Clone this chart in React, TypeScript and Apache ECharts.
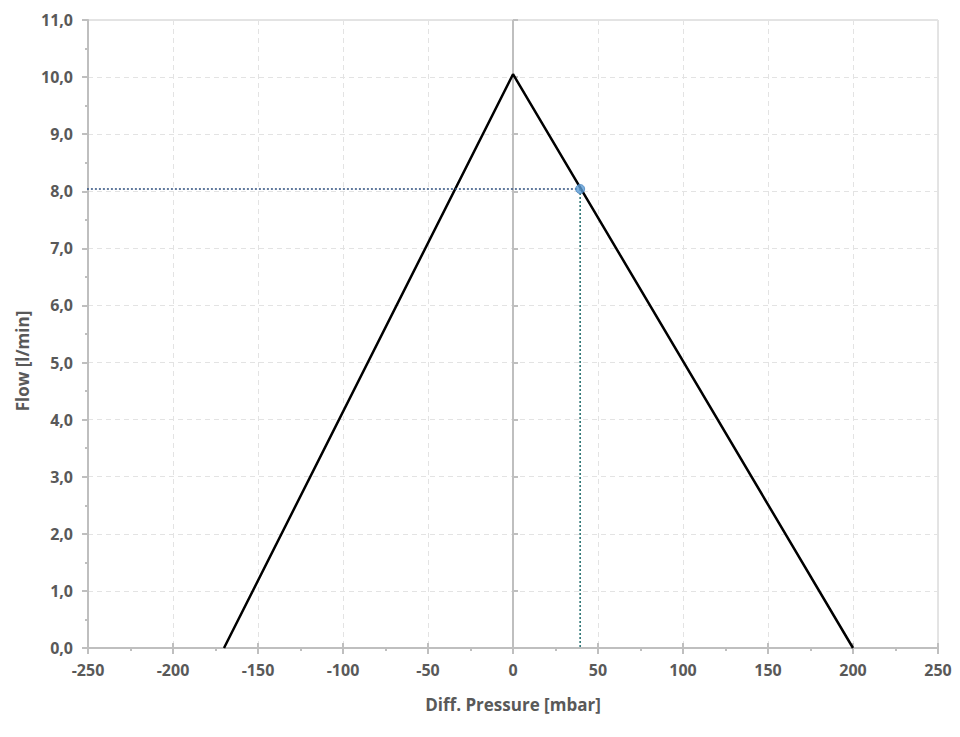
import React, { useEffect, useRef } from "react";
import * as echarts from "echarts";

const curveX = [-170, 0, 200];
const curveY = [0, 10.05, 0];
const pointX = 39.5;
const pointY = 8.04;
const xTitle = "Diff. Pressure [mbar]";
const yTitle = "Flow [l/min]";

export default function App() {
  const ref = useRef<HTMLDivElement>(null);
  useEffect(() => {
    if (!ref.current) return;
    const chart = echarts.init(ref.current, null, { renderer: "svg" });
    const font = "'Open Sans', 'Liberation Sans', sans-serif";
    const labelStyle = { color: "#595959", fontWeight: "bold" as const, fontSize: 16, fontFamily: font };
    const gray = "#bfbfbf";
    const innerX = {
      type: "value",
      min: -250,
      max: 250,
      interval: 50,
      position: "bottom",
      axisLine: { show: false },
      axisTick: { show: true, inside: true, length: 5, lineStyle: { color: gray, width: 2 } },
      axisLabel: { show: false },
      splitLine: { show: false },
    };
    const innerY = {
      type: "value",
      min: 0,
      max: 11,
      interval: 1,
      position: "left",
      axisLine: { show: false },
      axisTick: { show: true, inside: true, length: 5, lineStyle: { color: gray, width: 2 } },
      axisLabel: { show: false },
      splitLine: { show: false },
    };
    chart.setOption({
      animation: false,
      backgroundColor: "#ffffff",
      grid: { left: 88, right: 22, top: 20, bottom: 89, show: true, borderColor: "#c8c8c8", borderWidth: 1 },
      xAxis: [
        {
          type: "value",
          min: -250,
          max: 250,
          interval: 50,
          name: xTitle,
          nameLocation: "middle",
          nameGap: 48,
          nameTextStyle: { ...labelStyle, fontSize: 17 },
          axisLine: { show: true, onZero: false, lineStyle: { color: gray, width: 2 } },
          axisTick: { show: true, length: 6, lineStyle: { color: gray, width: 2 } },
          minorTick: { show: true, splitNumber: 2, length: 3, lineStyle: { color: gray, width: 2 } },
          axisLabel: { ...labelStyle, margin: 14 },
          splitLine: { show: true, lineStyle: { color: "#e3e3e3", type: [5, 4], width: 1 } },
        },
        innerX,
      ],
      yAxis: [
        {
          type: "value",
          min: 0,
          max: 11,
          interval: 1,
          axisLine: { show: true, onZero: false, lineStyle: { color: gray, width: 2 } },
          axisTick: { show: true, length: 6, lineStyle: { color: gray, width: 2 } },
          minorTick: { show: true, splitNumber: 2, length: 3, lineStyle: { color: gray, width: 2 } },
          axisLabel: { ...labelStyle, margin: 15, formatter: (v: number) => v.toFixed(1).replace(".", ",") },
          splitLine: { show: true, lineStyle: { color: "#e3e3e3", type: [5, 4], width: 1 } },
        },
        innerY,
      ],
      graphic: [
        {
          type: "text",
          x: 22,
          y: 361,
          rotation: Math.PI / 2,
          style: {
            text: yTitle,
            fill: "#595959",
            font: `bold 17px ${font}`,
            align: "center",
            verticalAlign: "middle",
          },
        },
      ],
      series: [
        {
          type: "line",
          data: curveX.map((x, i) => [x, curveY[i]]),
          symbol: "none",
          lineStyle: { color: "#000000", width: 2.5 },
          z: 3,
          markLine: {
            silent: true,
            symbol: "none",
            label: { show: false },
            lineStyle: { color: gray, width: 2, type: "solid" },
            data: [{ xAxis: 0 }],
            z: 1,
          },
        },
        {
          type: "line",
          data: [[-253, pointY], [pointX, pointY]],
          symbol: "none",
          clip: false,
          lineStyle: { color: "#2f4f7f", width: 1.5, type: [2, 2] },
          z: 4,
        },
        {
          type: "line",
          data: [[pointX, pointY], [pointX, 0]],
          symbol: "none",
          lineStyle: { color: "#1f6b6b", width: 1.5, type: [2, 2] },
          z: 4,
        },
        {
          type: "scatter",
          data: [[pointX, pointY]],
          symbolSize: 9,
          itemStyle: { color: "#5b9bd5", borderColor: "#4a86c0", borderWidth: 1 },
          z: 5,
        },
      ],
    });
    return () => chart.dispose();
  }, []);
  return <div ref={ref} style={{ width: 960, height: 737, position: "absolute", left: 0, top: 0 }} />;
}
